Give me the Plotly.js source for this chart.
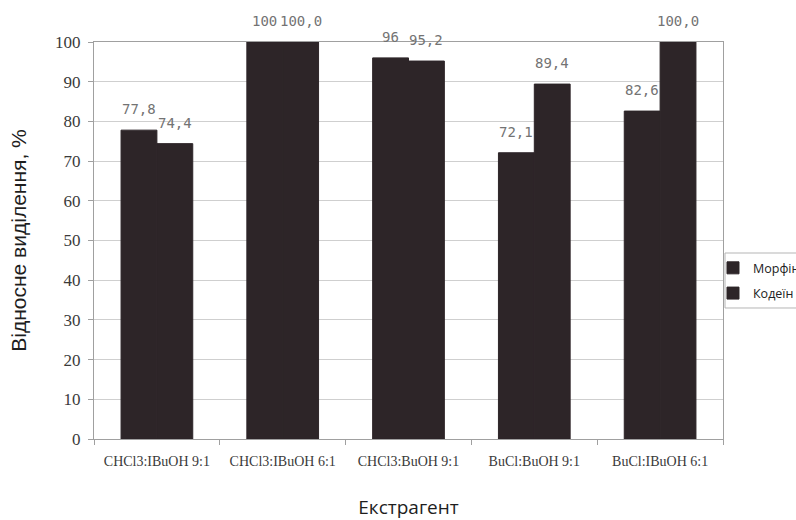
<!DOCTYPE html>
<html>
<head>
<meta charset="utf-8">
<script src="https://cdn.plot.ly/plotly-3.0.1.min.js"></script>
<style>
  html, body { margin: 0; padding: 0; background: #ffffff; }
  #chart { width: 796px; height: 520px; }
</style>
</head>
<body>
<div id="chart"></div>
<script>
// Extractant systems (x categories)
const categories = ['CHCl3:IBuOH 9:1', 'CHCl3:IBuOH 6:1', 'CHCl3:BuOH 9:1', 'BuCl:BuOH 9:1', 'BuCl:IBuOH 6:1'];

// Relative recovery, %
const morphineValues = [77.8, 100, 96, 72.1, 82.6];
const codeineValues  = [74.4, 100, 95.2, 89.4, 100];

// Value labels as printed above the bars
const morphineLabels = ['77,8', '100', '96', '72,1', '82,6'];
const codeineLabels  = ['74,4', '100,0', '95,2', '89,4', '100,0'];

const seriesNames = ['Морфін', 'Кодеїн'];
const yTicks = [0, 10, 20, 30, 40, 50, 60, 70, 80, 90, 100];

const BAR_COLOR = '#2d2528';
const BARGAP = 0.43;

const traces = [
  {
    type: 'bar', name: seriesNames[0], x: categories, y: morphineValues,
    marker: { color: BAR_COLOR, line: { width: 1, color: BAR_COLOR } },
    legendgroup: 'm', hoverinfo: 'x+y'
  },
  {
    type: 'bar', name: seriesNames[1], x: categories, y: codeineValues,
    marker: { color: BAR_COLOR, line: { width: 1, color: BAR_COLOR } },
    legendgroup: 'c', hoverinfo: 'x+y'
  }
];

// Value labels placed over each bar of the pair (index axis units)
const half = (1 - BARGAP) / 4;
const labelFont = { family: 'DejaVu Sans Mono, Liberation Mono, monospace', size: 14, color: '#737373' };
const annotations = [];
categories.forEach((c, i) => {
  annotations.push({
    x: i - half, y: morphineValues[i], xref: 'x', yref: 'y',
    text: morphineLabels[i], showarrow: false, yanchor: 'bottom', yshift: 11,
    font: labelFont
  });
  annotations.push({
    x: i + half, y: codeineValues[i], xref: 'x', yref: 'y',
    text: codeineLabels[i], showarrow: false, yanchor: 'bottom', yshift: 11,
    font: labelFont
  });
});

// Frame around the legend entries
const shapes = [{
  type: 'rect', xref: 'paper', yref: 'paper',
  x0: 1.0032, x1: 1.2, y0: 0.33, y1: 0.4685,
  line: { color: '#b5b5b5', width: 1 }, fillcolor: 'rgba(0,0,0,0)'
}];

const layout = {
  width: 796, height: 520,
  paper_bgcolor: '#ffffff', plot_bgcolor: '#ffffff',
  margin: { l: 94, r: 73, t: 42, b: 81, autoexpand: false },
  barmode: 'group', bargap: BARGAP, bargroupgap: 0,
  showlegend: true,
  legend: {
    x: 0.9841, xanchor: 'left', y: 0.468, yanchor: 'top',
    borderwidth: 0, bgcolor: 'rgba(0,0,0,0)',
    font: { family: 'Open Sans, Noto Sans, sans-serif', size: 12.5, color: '#222' },
    traceorder: 'grouped', tracegroupgap: 6,
    itemwidth: 30
  },
  xaxis: {
    type: 'category',
    tickson: 'boundaries', ticks: 'outside', ticklen: 5, tickcolor: '#a0a0a0',
    showline: true, linecolor: '#a0a0a0', linewidth: 1, mirror: true,
    showgrid: false,
    tickfont: { family: 'Liberation Serif, Times New Roman, serif', size: 14, color: '#3a3a3a' },
    ticklabelstandoff: 9,
    title: {
      text: 'Екстрагент',
      font: { family: 'Open Sans, Noto Sans, sans-serif', size: 19, color: '#1e1e1e' },
      standoff: 37
    },
    fixedrange: true
  },
  yaxis: {
    range: [0, 100], tickvals: yTicks, ticktext: yTicks.map(String),
    ticks: 'outside', ticklen: 5, tickcolor: '#a0a0a0',
    showline: true, linecolor: '#a0a0a0', linewidth: 1, mirror: true,
    showgrid: true, gridcolor: '#cfcfcf', gridwidth: 1,
    zeroline: false,
    tickfont: { family: 'Liberation Serif, Times New Roman, serif', size: 17, color: '#3a3a3a' },
    ticklabelstandoff: 4,
    title: {
      text: 'Відносне виділення, %',
      font: { family: 'Liberation Sans, Arial, sans-serif', size: 21, color: '#1e1e1e' },
      standoff: 22
    },
    fixedrange: true
  },
  shapes: shapes,
  annotations: annotations
};

Plotly.newPlot('chart', traces, layout, { displayModeBar: false, staticPlot: true });
</script>
</body>
</html>
